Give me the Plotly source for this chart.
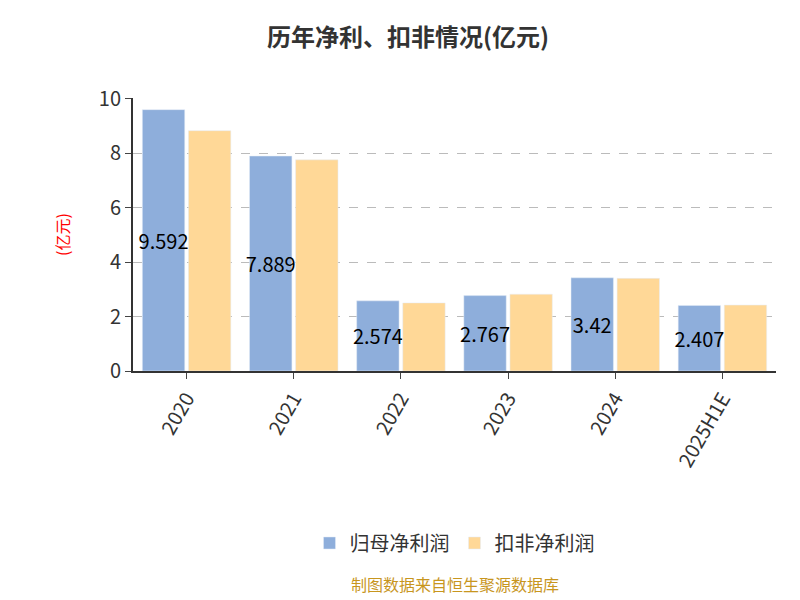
import plotly.graph_objects as go

years = ["2020", "2021", "2022", "2023", "2024", "2025H1E"]
net_profit = [9.592, 7.889, 2.574, 2.767, 3.42, 2.407]
deducted_profit = [8.82, 7.75, 2.5, 2.82, 3.4, 2.42]
net_labels = ["9.592", "7.889", "2.574", "2.767", "3.42", "2.407"]

fig = go.Figure()
fig.add_trace(go.Bar(
    x=years, y=net_profit, name="归母净利润",
    marker=dict(color="#8eaedb"),
    text=net_labels, textposition="inside", insidetextanchor="middle",
    textangle=0, constraintext="none", cliponaxis=False,
    textfont=dict(size=20, color="#000000"),
))
fig.add_trace(go.Bar(
    x=years, y=deducted_profit, name="扣非净利润",
    marker=dict(color="#ffd897"),
))

fig.update_layout(
    width=800, height=600,
    paper_bgcolor="white", plot_bgcolor="white",
    font=dict(family="Noto Sans CJK SC", size=18, color="#333333"),
    title=dict(text="<b>历年净利、扣非情况(亿元)</b>", x=0.5, y=0.965,
               font=dict(size=24, color="#333333")),
    margin=dict(l=125, r=32, t=90, b=237, autoexpand=False),
    barmode="group", bargap=0.14, bargroupgap=0.08,
    showlegend=True,
    legend=dict(orientation="h", x=0.5, xanchor="center", y=-0.63, yanchor="middle",
                font=dict(size=20)),
    xaxis=dict(showline=True, linecolor="#333333", linewidth=2,
               ticks="outside", tickangle=-60, tickfont=dict(size=20),
               ticklen=6),
    yaxis=dict(range=[0, 10.02], tickvals=[0, 2, 4, 6, 8, 10], showline=True,
               linecolor="#333333", linewidth=2, ticks="outside", ticklen=6,
               tickfont=dict(size=20),
               gridcolor="#bbbbbb", griddash="dash", zeroline=False,
               title=dict(text="(亿元)", font=dict(color="red", size=16), standoff=25)),
    annotations=[dict(text="制图数据来自恒生聚源数据库", xref="paper", yref="paper",
                      x=0.5, y=-0.83, showarrow=False,
                      font=dict(size=16, color="#c8961e"))],
)

fig.write_html("out.html")
